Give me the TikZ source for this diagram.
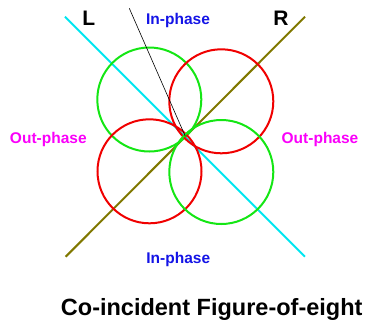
\documentclass[tikz,border=0pt]{standalone}
\usepackage{fontspec}
\setmainfont{Liberation Sans}
\definecolor{cyanL}{RGB}{0,230,240}
\definecolor{oliveR}{RGB}{128,120,0}
\definecolor{grn}{RGB}{20,230,20}
\definecolor{rd}{RGB}{240,0,0}
\definecolor{bl}{RGB}{20,20,230}
\definecolor{mg}{RGB}{250,0,250}
\begin{document}
\begin{tikzpicture}[x=1pt,y=-1pt,
  lbl/.style={font=\fontsize{15.5}{17}\selectfont\bfseries,inner sep=0pt},
  circ/.style={line width=2pt},
  axis/.style={line width=2pt}]
\useasboundingbox (0,0) rectangle (368,325);
\coordinate (O) at (185.3,136.3);
\coordinate (L1) at (65,16.7);
\coordinate (L2) at (305,256.7);
\coordinate (R1) at (65.7,256.7);
\coordinate (R2) at (305,16.7);
\coordinate (K) at (129.3,8.3);
\draw[axis,cyanL] (L1) -- (L2);
\draw[axis,oliveR] (R1) -- (R2);
\draw[circ,grn] (149.3,99.5) circle (52);
\draw[circ,rd] (221.3,101.3) circle (52);
\draw[circ,rd] (149.5,171.3) circle (52);
\draw[circ,grn] (221.3,172) circle (52);
\draw[black,line width=0.6pt] (K) -- (O);
\node[lbl,font=\fontsize{21}{24}\selectfont\bfseries] (l) at (88.8,18.5) {L};
\node[lbl,font=\fontsize{21}{24}\selectfont\bfseries] (r) at (281,18.5) {R};
\node[lbl,bl] (ip1) at (178,20.7) {In-phase};
\node[lbl,bl] (ip2) at (178.3,259.3) {In-phase};
\node[lbl,mg] (op1) at (48.3,139.3) {Out-phase};
\node[lbl,mg] (op2) at (320,139.3) {Out-phase};
\node[lbl,font=\fontsize{23.5}{26}\selectfont\bfseries] (t) at (211.7,309) {Co-incident Figure-of-eight};
\end{tikzpicture}
\end{document}
